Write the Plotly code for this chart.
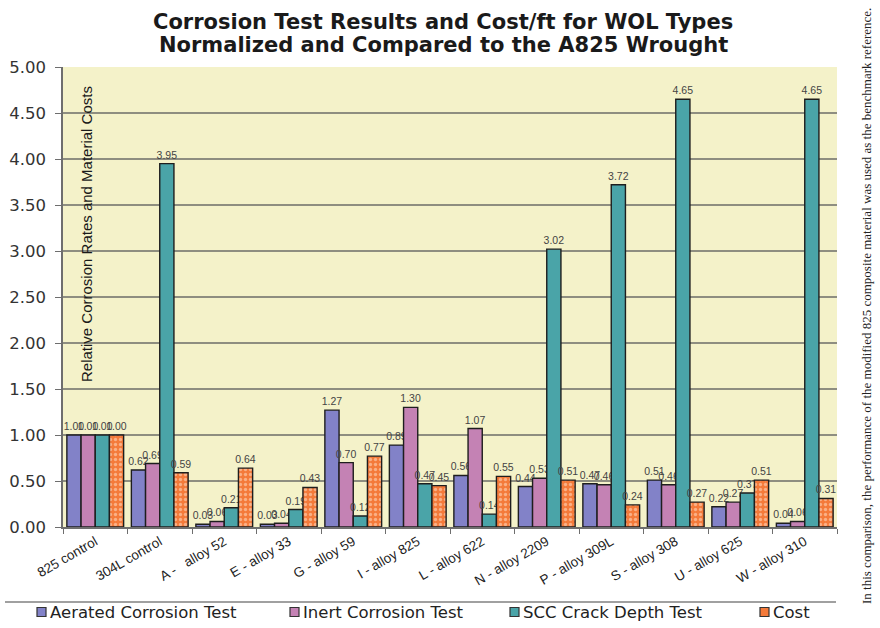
import plotly.graph_objects as go

categories = ["825 control", "304L control", "A -   alloy 52", "E - alloy 33", "G - alloy 59",
              "I - alloy 825", "L - alloy 622", "N - alloy 2209", "P - alloy 309L",
              "S - alloy 308", "U - alloy 625", "W - alloy 310"]

aerated = [1.00, 0.62, 0.03, 0.03, 1.27, 0.89, 0.56, 0.44, 0.47, 0.51, 0.22, 0.04]
inert = [1.00, 0.69, 0.06, 0.04, 0.70, 1.30, 1.07, 0.53, 0.46, 0.46, 0.27, 0.06]
scc = [1.00, 3.95, 0.21, 0.19, 0.12, 0.47, 0.14, 3.02, 3.72, 4.65, 0.37, 4.65]
cost = [1.00, 0.59, 0.64, 0.43, 0.77, 0.45, 0.55, 0.51, 0.24, 0.27, 0.51, 0.31]

y_ticks = [0, 0.5, 1.0, 1.5, 2.0, 2.5, 3.0, 3.5, 4.0, 4.5, 5.0]

title_lines = ["Corrosion Test Results and Cost/ft for WOL Types",
               "Normalized and Compared to the A825 Wrought"]

COST_PATTERN = dict(shape=".", fgcolor="#FFE6D2", size=5, solidity=0.35)
series = [
    ("Aerated Corrosion Test", aerated, "#8282C8", None),
    ("Inert Corrosion Test", inert, "#C482B4", None),
    ("SCC Crack Depth Test", scc, "#4AA4A8", None),
    ("Cost", cost, "#F47A3A", COST_PATTERN),
]

# figure geometry (pixels) used to place the hand-drawn legend and notes
W, H = 880, 628
L, R, T, B = 63, 43, 67, 101
PW, PH = W - L - R, H - T - B


def px(xpix):
    return (xpix - L) / PW


def py(ypix):
    return (H - B - ypix) / PH


BASE_FONT = "DejaVu Sans, Verdana, Liberation Sans"
OUTLINE = "#1E1E1E"

fig = go.Figure()
for name, vals, color, pattern in series:
    marker = dict(color=color, line=dict(color=OUTLINE, width=1.4))
    if pattern:
        marker["pattern"] = pattern
    fig.add_trace(go.Bar(
        x=categories, y=vals, name=name, marker=marker, showlegend=False,
        text=[f"{v:.2f}" for v in vals], textposition="outside",
        constraintext="none", cliponaxis=False,
        textfont=dict(family="Liberation Sans, Arial", size=10.5, color="#444444"),
    ))

fig.update_layout(
    width=W, height=H,
    margin=dict(l=L, r=R, t=T, b=B, autoexpand=False),
    paper_bgcolor="white",
    plot_bgcolor="#F4F2C9",
    barmode="group", bargap=0.12, bargroupgap=0.0,
    font=dict(family=BASE_FONT, color="#222222"),
    showlegend=False,
)

fig.update_yaxes(
    range=[0, 5], tickvals=y_ticks, tickformat=".2f", automargin=False,
    showgrid=True, gridcolor="#8E8E80", gridwidth=1.5,
    showline=True, linecolor="#6E6E6E", linewidth=1.5,
    ticks="outside", ticklen=6, tickcolor="#6E6E6E", ticklabelstandoff=6,
    tickfont=dict(family=BASE_FONT, size=16.5, color="#333333"), zeroline=False,
)
fig.update_xaxes(
    tickangle=-30, tickson="boundaries", ticks="outside", ticklen=5, automargin=False,
    tickcolor="#6E6E6E", showline=True, linecolor="#6E6E6E", linewidth=1.5,
    tickfont=dict(family="Liberation Sans, Arial", size=13.5, color="#222222"), showgrid=False,
)

# two-line chart heading
for line, ypix in zip(title_lines, [22, 45]):
    fig.add_annotation(
        text=f"<b>{line}</b>", xref="paper", yref="paper", x=px(443), y=py(ypix),
        xanchor="center", yanchor="middle", showarrow=False,
        font=dict(family="DejaVu Sans, Verdana", size=21, color="#1A1A1A"),
    )

# axis caption placed inside the plotting area
fig.add_annotation(
    text="Relative Corrosion Rates and Material Costs",
    xref="paper", yref="paper", x=px(86), y=py(234), textangle=-90,
    showarrow=False, xanchor="center", yanchor="middle",
    font=dict(family="Liberation Sans, Arial", size=15, color="#1A1A1A"),
)

# separator above the legend
fig.add_shape(type="line", xref="paper", yref="paper", x0=px(5), x1=px(836), y0=py(602), y1=py(602),
              line=dict(color="#A0A0A0", width=2))

# legend row: swatch + label for each series
legend_x = [37, 290, 510, 760]
legend_y = 612
for (name, vals, color, pattern), lx in zip(series, legend_x):
    fig.add_shape(type="rect", xref="paper", yref="paper",
                  x0=px(lx), x1=px(lx + 9), y0=py(legend_y + 4.5), y1=py(legend_y - 4.5),
                  fillcolor=color, line=dict(color="#333333", width=1.2))
    fig.add_annotation(text=name, xref="paper", yref="paper", x=px(lx + 11), y=py(legend_y),
                       xanchor="left", yanchor="middle", showarrow=False,
                       font=dict(family=BASE_FONT, size=16.5, color="#222222"))

# side note along the right edge
fig.add_annotation(
    text="In this comparison, the performance of the modified 825 composite material was used as the benchmark reference.",
    xref="paper", yref="paper", x=px(866), y=py(306), textangle=-90,
    showarrow=False, xanchor="center", yanchor="middle",
    font=dict(family="Liberation Serif, DejaVu Serif", size=13, color="#222222"),
)

fig.write_html("out.html")
